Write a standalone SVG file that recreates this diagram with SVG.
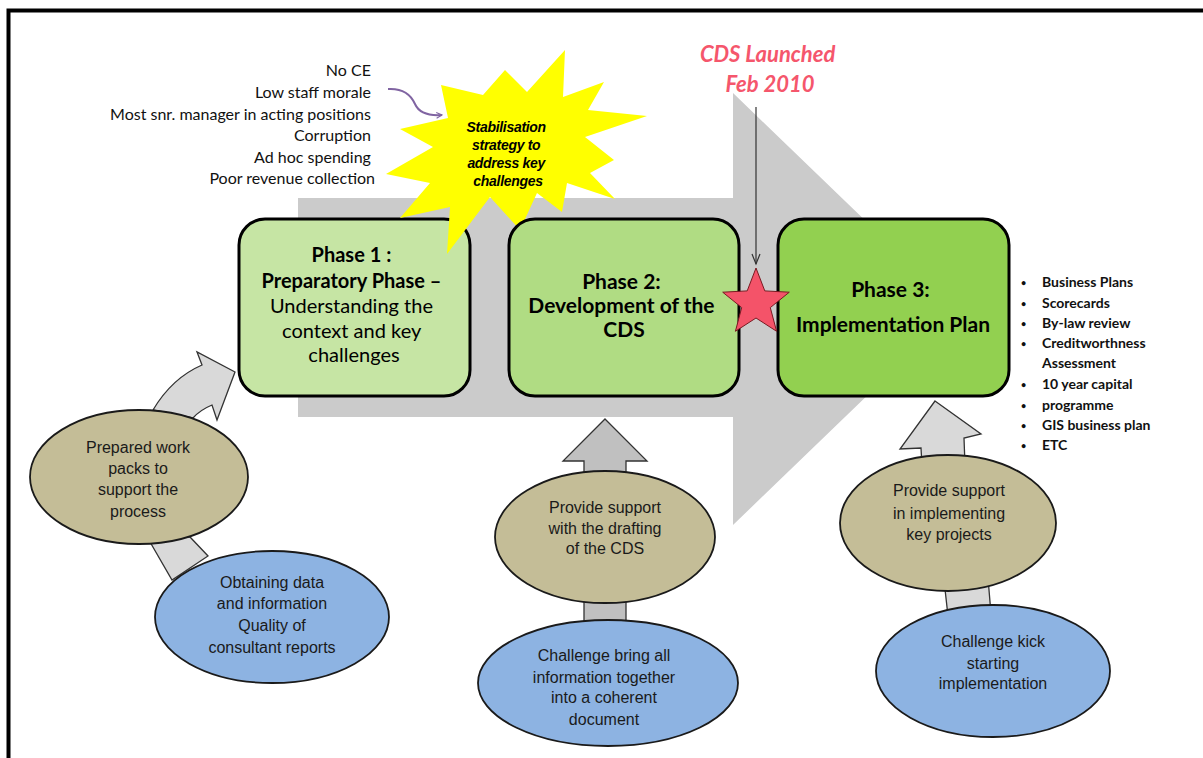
<svg xmlns="http://www.w3.org/2000/svg" width="1203" height="758" viewBox="0 0 1203 758">
<defs>
<style>
.phase{stroke:#000;stroke-width:3}
.cal{font-family:Lato,"Liberation Sans",sans-serif;fill:#000}
.ar{font-family:"Liberation Sans",Arial,sans-serif;font-size:16px;fill:#1a1a1a;text-anchor:middle}
.tan{fill:#c4bd97;stroke:#1a1a1a;stroke-width:1.8}
.blue{fill:#8db3e2;stroke:#1a1a1a;stroke-width:1.8}
.lg{fill:#d9d9d9;stroke:#333;stroke-width:1.3}
.mg{fill:#c0c0c0;stroke:#333;stroke-width:1.3}
.list{font-family:Lato,"Liberation Sans",sans-serif;font-size:16px;fill:#111;text-anchor:end}
.bul{font-family:Lato,"Liberation Sans",sans-serif;font-size:14px;font-weight:bold;fill:#111}
.dot{font-size:9px}
</style>
<marker id="purp" viewBox="0 0 10 10" refX="9" refY="5" markerWidth="7" markerHeight="7" orient="auto" markerUnits="userSpaceOnUse">
<path d="M1,1 L9,5 L1,9" fill="none" stroke="#8064a2" stroke-width="1.5"/>
</marker>
</defs>
<rect width="1203" height="758" fill="#fff"/>
<!-- frame -->
<path d="M8.5,758 V10.5 H1203" fill="none" stroke="#000" stroke-width="4"/>

<!-- big gray arrow -->
<g id="main-arrow">
<path d="M298,198 H733 V93 L957,309 L733,525 V417 H298 Z" fill="#cbcbcb"/>
</g>

<g id="phase1">
<rect class="phase" x="239" y="219" width="231" height="177" rx="26" fill="#c6e5a4"/>
<text class="cal" text-anchor="middle" font-size="20">
<tspan x="354" y="262" font-weight="bold">Phase 1 :</tspan>
<tspan x="354" y="288" font-weight="bold">Preparatory Phase –</tspan>
<tspan x="354" y="313">Understanding the</tspan>
<tspan x="354" y="338">context and key</tspan>
<tspan x="354" y="362">challenges</tspan>
</text>
</g>

<g id="starburst">
<polygon points="565,50 563,97 604,82 588,110 647,116 585,137 614,160 590,173 615,199 567,183 562,212 537,193 520,230 490,197 447,254 450,207 400,218 430,183 386,174 433,147 400,129 448,118 441,85 483,95 505,70 527,92" fill="#ffff00"/>
<text font-family="'Liberation Sans',Arial,sans-serif" font-size="14" font-weight="bold" font-style="italic" text-anchor="middle" fill="#000" letter-spacing="-0.3">
<tspan x="508" y="132">Stabilisation</tspan>
<tspan x="508" y="150">strategy to</tspan>
<tspan x="508" y="168">address key</tspan>
<tspan x="508" y="186">challenges</tspan>
</text>
</g>

<g id="phase2">
<rect class="phase" x="509" y="219" width="230" height="177" rx="26" fill="#b0dc83"/>
<text class="cal" text-anchor="middle" font-size="21" font-weight="bold">
<tspan x="624" y="289">Phase 2:</tspan>
<tspan x="624" y="313">Development of the</tspan>
<tspan x="624" y="337">CDS</tspan>
</text>
</g>

<g id="phase3">
<rect class="phase" x="778" y="219" width="231" height="177" rx="26" fill="#92d050"/>
<text class="cal" text-anchor="middle" font-size="21" font-weight="bold">
<tspan x="893" y="297">Phase 3:</tspan>
<tspan x="893" y="332">Implementation Plan</tspan>
</text>
</g>

<g id="launch">
<text class="cal" text-anchor="middle" font-size="22" font-weight="bold" font-style="italic" style="fill:#f5566c">
<tspan x="770" y="62">CDS Launched</tspan>
<tspan x="770" y="92">Feb 2010</tspan>
</text>
</g>

<g id="star">
<polygon points="756,268 764.8,290.9 789.3,292.2 770.3,307.6 776.6,331.3 756,318 735.4,331.3 741.7,307.6 722.7,292.2 747.2,290.9" fill="#f45369" stroke="#7a1a22" stroke-width="1"/>
</g>

<g id="challenges-list">
<text class="list">
<tspan x="375" y="76">No CE</tspan>
<tspan x="375" y="98">Low staff morale</tspan>
<tspan x="375" y="120">Most snr. manager in acting positions</tspan>
<tspan x="375" y="141">Corruption</tspan>
<tspan x="375" y="163">Ad hoc spending</tspan>
<tspan x="375" y="184">Poor revenue collection</tspan>
</text>
</g>

<g id="deliverables">
<text class="bul">
<tspan class="dot" x="1021" y="286">•</tspan><tspan x="1042" y="287">Business Plans</tspan>
<tspan class="dot" x="1021" y="307">•</tspan><tspan x="1042" y="308">Scorecards</tspan>
<tspan class="dot" x="1021" y="327">•</tspan><tspan x="1042" y="328">By-law review</tspan>
<tspan class="dot" x="1021" y="347">•</tspan><tspan x="1042" y="348">Creditworthness</tspan>
<tspan x="1042" y="368">Assessment</tspan>
<tspan class="dot" x="1021" y="388">•</tspan><tspan x="1042" y="389">10 year capital</tspan>
<tspan class="dot" x="1021" y="409">•</tspan><tspan x="1042" y="410">programme</tspan>
<tspan class="dot" x="1021" y="429">•</tspan><tspan x="1042" y="430">GIS business plan</tspan>
<tspan class="dot" x="1021" y="449">•</tspan><tspan x="1042" y="450">ETC</tspan>
</text>
</g>

<g id="connectors">
<path d="M388,89 C404,88 411,95 415,104 C419,113 428,116 442,115" fill="none" stroke="#8064a2" stroke-width="2" marker-end="url(#purp)"/>
<line x1="756" y1="107" x2="756" y2="264" stroke="#333" stroke-width="1.2"/>
<path d="M752,254 L756,264 L760,254" fill="none" stroke="#333" stroke-width="1.2"/>
<path class="lg" d="M153,410 Q172,378 202,365 L197,352 L235,372 L217,420 L212,405 Q200,410 193,418 Z"/>
<polygon class="lg" points="146,535 190,537 208,556 172,580"/>
<polygon class="mg" points="605,419 647,461 626,461 626,480 584,480 584,461 563,461"/>
<rect class="mg" x="584" y="595" width="42" height="35"/>
<polygon class="lg" points="935,401 981,434 964,438 965,465 922,466 921,448 900,449"/>
<polygon class="lg" points="944,580 988,578 991,614 948,616"/>
</g>

<g id="tan1">
<ellipse class="tan" cx="139" cy="477" rx="109" ry="67"/>
<text class="ar"><tspan x="138" y="453">Prepared work</tspan><tspan x="138" y="474">packs to</tspan><tspan x="138" y="495">support the</tspan><tspan x="138" y="517">process</tspan></text>
</g>
<g id="blue1">
<ellipse class="blue" cx="272" cy="617" rx="117" ry="66"/>
<text class="ar"><tspan x="272" y="588">Obtaining data</tspan><tspan x="272" y="609">and information</tspan><tspan x="272" y="631">Quality of</tspan><tspan x="272" y="653">consultant reports</tspan></text>
</g>
<g id="tan2">
<ellipse class="tan" cx="605" cy="537" rx="110" ry="66"/>
<text class="ar"><tspan x="605" y="513">Provide support</tspan><tspan x="605" y="534">with the drafting</tspan><tspan x="605" y="554">of the CDS</tspan></text>
</g>
<g id="blue2">
<ellipse class="blue" cx="608" cy="683" rx="130" ry="63"/>
<text class="ar"><tspan x="604" y="661">Challenge bring all</tspan><tspan x="604" y="683">information together</tspan><tspan x="604" y="703">into a coherent</tspan><tspan x="604" y="725">document</tspan></text>
</g>
<g id="tan3">
<ellipse class="tan" cx="948" cy="523" rx="108" ry="68"/>
<text class="ar"><tspan x="949" y="496">Provide support</tspan><tspan x="949" y="519">in implementing</tspan><tspan x="949" y="540">key projects</tspan></text>
</g>
<g id="blue3">
<ellipse class="blue" cx="993" cy="671" rx="117" ry="66"/>
<text class="ar"><tspan x="993" y="647">Challenge kick</tspan><tspan x="993" y="669">starting</tspan><tspan x="993" y="689">implementation</tspan></text>
</g>
</svg>
